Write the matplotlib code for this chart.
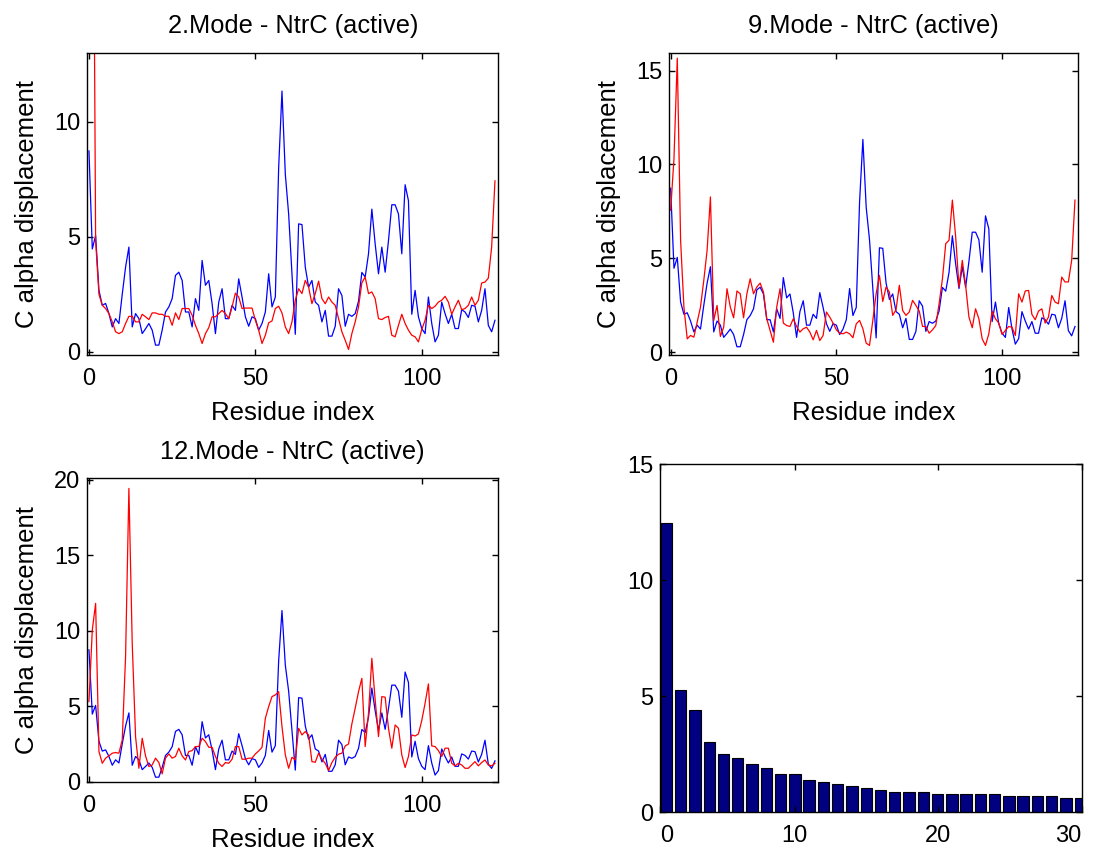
import numpy as np
import matplotlib
matplotlib.use("Agg")
import matplotlib.pyplot as plt

plt.rcParams['font.family'] = ['Liberation Sans', 'DejaVu Sans']

# C alpha displacement per residue (blue = reference, same in all three panels)
blue = [8.73, 4.47, 5.05, 2.67, 2.02, 2.1, 1.66, 1.08, 1.44, 1.23,
        2.5, 3.68, 4.55, 1.08, 1.66, 1.44, 0.79, 1.0, 1.23, 0.94,
        0.29, 0.29, 0.94, 1.73, 1.95, 2.31, 3.32, 3.46, 3.1, 1.73,
        1.73, 1.08, 2.31, 1.8, 3.97, 2.89, 3.1, 2.09, 0.79, 2.16,
        2.74, 1.44, 1.44, 2.02, 1.8, 3.17, 2.38, 1.52, 1.11, 1.52,
        1.44, 0.94, 1.23, 1.73, 3.39, 1.95, 2.38, 8.0, 11.33, 7.72,
        5.99, 3.39, 0.76, 5.56, 5.53, 3.68, 2.81, 3.1, 2.16, 2.02,
        1.3, 1.8, 0.68, 0.68, 1.11, 2.74, 2.45, 1.11, 1.63, 1.54,
        1.66, 2.2, 3.45, 3.25, 4.26, 6.2, 4.69, 3.39, 4.55, 3.46,
        4.83, 6.39, 6.39, 5.99, 4.26, 7.26, 6.57, 1.63, 2.67, 1.52,
        1.01, 0.79, 2.38, 1.23, 0.43, 0.72, 2.16, 1.66, 1.23, 1.63,
        1.01, 1.01, 1.83, 1.73, 1.49, 2.02, 1.98, 1.3, 1.8, 2.74,
        1.15, 0.87, 1.37]

red_mode2 = [30.0, 30.0, 4.83, 2.5, 2.02, 1.88, 1.66, 1.3, 0.87, 0.79,
             0.87, 1.23, 1.54, 1.54, 1.3, 1.3, 1.63, 1.52, 1.4, 1.69,
             1.69, 1.63, 1.63, 1.54, 1.54, 1.15, 1.69, 1.4, 1.88, 1.88,
             1.88, 1.59, 1.15, 0.79, 0.36, 0.79, 1.05, 1.52, 1.52, 1.66,
             1.8, 1.66, 1.44, 1.95, 2.55, 2.38, 1.88, 1.9, 1.9, 1.9,
             1.37, 0.94, 0.36, 0.72, 1.26, 1.34, 1.88, 1.98, 1.69, 1.08,
             0.79, 1.3, 2.24, 2.74, 2.53, 3.1, 2.81, 2.09, 2.53, 3.07,
             2.31, 2.09, 2.38, 2.16, 2.02, 1.44, 0.87, 0.5, 0.1, 0.79,
             1.3, 1.95, 3.0, 3.25, 2.53, 2.6, 2.31, 1.44, 1.4, 1.49,
             1.54, 0.72, 0.65, 1.15, 1.63, 1.23, 0.94, 0.72, 0.65, 0.43,
             0.97, 1.37, 2.02, 1.88, 1.98, 2.16, 2.24, 2.41, 2.16, 1.63,
             1.95, 2.24, 1.83, 1.88, 2.02, 2.38, 2.02, 2.24, 2.99, 3.03,
             3.2, 4.55, 7.43]

red_mode9 = [7.56, 10.3, 15.66, 5.96, 2.4, 0.71, 0.89, 0.8, 1.6, 2.4,
             3.83, 5.43, 8.27, 1.69, 2.49, 0.84, 1.33, 3.38, 2.4, 1.83,
             3.26, 3.11, 1.83, 3.11, 3.91, 3.11, 3.47, 3.68, 3.2, 1.78,
             1.16, 0.53, 2.4, 3.38, 1.55, 1.42, 1.37, 1.78, 1.37, 1.07,
             1.25, 1.33, 1.07, 0.66, 1.16, 0.62, 0.89, 2.14, 1.87, 1.55,
             1.19, 1.01, 0.98, 1.07, 0.98, 0.77, 1.51, 1.69, 1.25, 0.48,
             0.36, 1.69, 3.11, 4.09, 2.7, 3.47, 3.2, 1.96, 2.26, 3.56,
             2.22, 1.96, 2.14, 2.76, 2.49, 2.19, 1.37, 1.37, 1.01, 1.19,
             1.42, 2.58, 3.9, 5.78, 5.96, 8.1, 6.14, 3.47, 4.89, 3.56,
             1.87, 1.3, 2.31, 1.78, 0.71, 0.36, 0.98, 2.19, 1.78, 1.55,
             0.94, 1.16, 1.37, 1.33, 0.89, 3.11, 2.67, 3.26, 3.29, 2.01,
             1.73, 2.19, 2.31, 1.55, 1.87, 3.02, 2.67, 2.58, 4.0, 3.74,
             3.74, 4.89, 8.1]

red_mode12 = [5.3, 10.04, 11.81, 1.99, 1.21, 1.55, 1.7, 1.88, 1.92, 1.88,
              2.76, 8.28, 19.43, 9.16, 2.98, 0.88, 2.87, 1.7, 0.99, 1.1,
              1.55, 1.26, 0.51, 1.55, 1.83, 1.55, 1.66, 2.21, 1.7, 1.43,
              1.99, 2.05, 2.32, 2.32, 2.87, 2.65, 2.27, 2.27, 1.66, 1.21,
              1.0, 1.26, 1.21, 1.48, 2.32, 2.32, 1.48, 1.48, 1.55, 1.55,
              1.83, 2.03, 2.27, 4.19, 4.97, 5.63, 5.74, 5.96, 3.64, 1.77,
              0.88, 1.61, 1.43, 3.53, 3.09, 3.31, 3.09, 1.32, 1.28, 1.88,
              1.48, 1.21, 0.73, 1.26, 1.61, 1.81, 1.88, 2.36, 2.49, 3.82,
              4.86, 5.96, 6.84, 2.32, 4.53, 8.17, 5.41, 2.98, 5.63, 5.59,
              3.53, 2.21, 3.75, 3.53, 1.77, 0.93, 1.66, 3.09, 3.02, 3.16,
              4.04, 5.19, 6.47, 2.36, 2.32, 2.05, 1.66, 2.21, 2.21, 1.21,
              1.04, 1.21, 1.1, 0.88, 0.88, 1.1, 1.32, 1.04, 1.26, 1.43,
              1.1, 1.04, 1.21]

# spectrum of the first 30 modes
bar_vals = [12.45, 5.27, 4.4, 3.03, 2.5, 2.33, 2.07, 1.9, 1.64, 1.64,
            1.38, 1.3, 1.21, 1.12, 1.04, 0.95, 0.87, 0.87, 0.87, 0.78,
            0.78, 0.78, 0.78, 0.78, 0.69, 0.69, 0.69, 0.69, 0.61, 0.61]

titles = ['2.Mode - NtrC (active)', '9.Mode - NtrC (active)', '12.Mode - NtrC (active)']

W, H = 1097, 852
fig = plt.figure(figsize=(W / 100, H / 100), dpi=100)


def px_axes(left, top, right, bottom):
    return fig.add_axes([left / W, 1 - bottom / H, (right - left) / W, (bottom - top) / H])


def style(ax):
    ax.tick_params(direction='in', top=True, right=True, length=4, width=1,
                   labelsize=17, pad=5)
    ax.tick_params(axis='x', pad=9)
    for s in ax.spines.values():
        s.set_linewidth(1)


res = np.arange(len(blue))
panels = [
    (px_axes(87.3, 52.7, 498.3, 355), red_mode2, (-0.14, 13.0), [0, 5, 10]),
    (px_axes(669, 52.7, 1078.3, 355), red_mode9, (-0.15, 15.95), [0, 5, 10, 15]),
    (px_axes(87.3, 478.3, 498.3, 782.3), red_mode12, (-0.05, 20.1), [0, 5, 10, 15, 20]),
]
for (ax, red, ylim, yt), title in zip(panels, titles):
    ax.plot(res, blue, color='#0000ff', lw=0.9)
    ax.plot(res, red, color='#ff0000', lw=0.9)
    ax.set_xlim(-0.5, 123)
    ax.set_ylim(*ylim)
    ax.set_xticks([0, 50, 100])
    ax.set_yticks(yt)
    ax.set_title(title, fontsize=18.3, pad=14)
    ax.set_xlabel('Residue index', fontsize=18.5, labelpad=8)
    ax.set_ylabel('C alpha displacement', fontsize=18.5, labelpad=11)
    style(ax)

# bar chart
ax4 = px_axes(660, 464.3, 1081.7, 812.3)
idx = np.arange(1, len(bar_vals) + 1)
ax4.bar(idx, bar_vals, width=0.8, color='#000080', edgecolor='black', linewidth=0.8)
xl = (0.55, 30.1)
ax4.set_xlim(*xl)
ax4.set_ylim(0, 15)
ax4.set_yticks([0, 5, 10, 15])
ax4.set_xticks([xl[0], 10, 20, xl[1]])
ax4.set_xticklabels(['0', '10', '20', '30'])
style(ax4)
lbls = ax4.get_xticklabels()
lbls[0].set_horizontalalignment('left')
lbls[-1].set_horizontalalignment('right')

fig.savefig('out.png', dpi=100)
